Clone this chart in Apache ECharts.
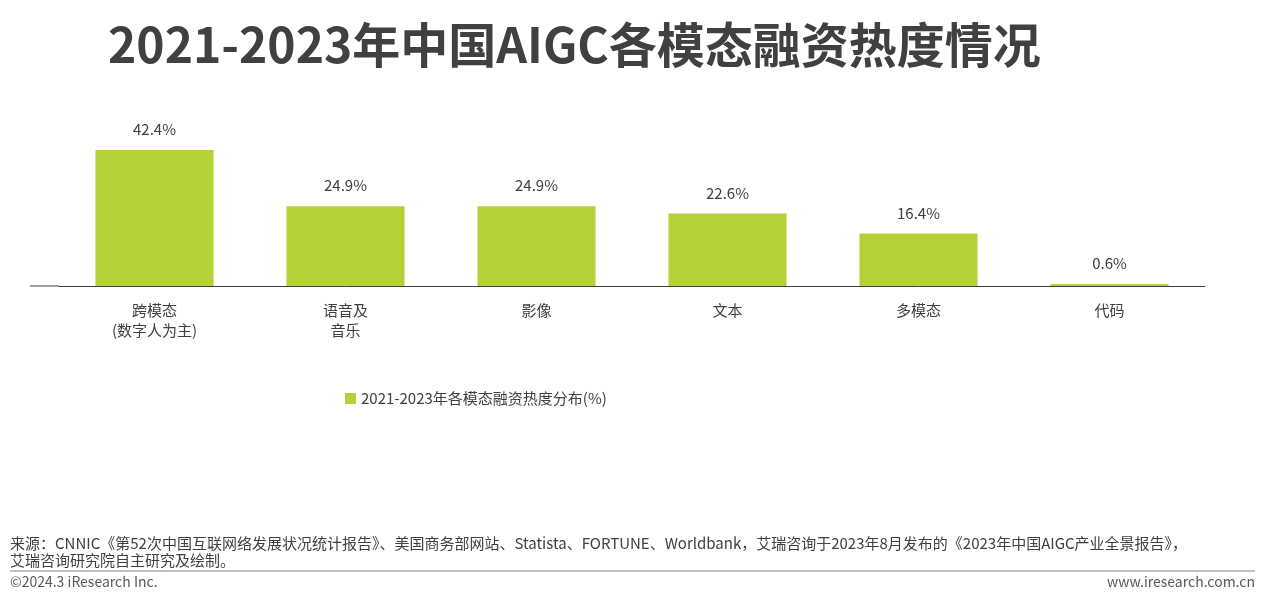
<!DOCTYPE html>
<html lang="zh">
<head>
<meta charset="UTF-8">
<title>AIGC</title>
<script src="https://cdn.jsdelivr.net/npm/echarts@6/dist/echarts.min.js"></script>
<style>body{margin:0}#main{width:1280px;height:602px}</style>
</head>
<body>
<div id="main"></div>
<script>
var categories = ['跨模态\n(数字人为主)', '语音及\n音乐', '影像', '文本', '多模态', '代码'];
var values = [42.4, 24.9, 24.9, 22.6, 16.4, 0.6];
var seriesName = '2021-2023年各模态融资热度分布(%)';

var font = '"Microsoft YaHei","Noto Sans CJK SC",sans-serif';
var chart = echarts.init(document.getElementById('main'));
chart.setOption({
    textStyle: {fontFamily: font},
    title: {
        text: '2021-2023年中国AIGC各模态融资热度情况',
        left: 103, top: 16,
        textStyle: {fontSize: 48, fontWeight: 'bold', color: '#404040', fontFamily: font}
    },
    legend: {
        data: [seriesName], left: 340, top: 386,
        itemWidth: 11, itemHeight: 11, icon: 'rect',
        textStyle: {fontSize: 15, color: '#404040'}
    },
    grid: {left: 59, right: 75, top: 150, height: 136},
    xAxis: {
        type: 'category', data: categories,
        axisLine: {lineStyle: {color: '#404040'}},
        axisTick: {show: false},
        axisLabel: {fontSize: 15, color: '#404040', margin: 14, lineHeight: 20}
    },
    yAxis: {type: 'value', min: 0, max: 42.4, show: false},
    series: [{
        name: seriesName, type: 'bar', data: values, barWidth: 118,
        itemStyle: {color: '#b2d235'},
        label: {show: true, position: 'top', distance: 13, formatter: '{c}%', fontSize: 15, color: '#404040'}
    }],
    graphic: [
        {type: 'line', shape: {x1: 30, y1: 286, x2: 59, y2: 286}, style: {stroke: '#404040', lineWidth: 1}},
        {type: 'text', left: 10, top: 535, style: {text: '来源：CNNIC《第52次中国互联网络发展状况统计报告》、美国商务部网站、Statista、FORTUNE、Worldbank，艾瑞咨询于2023年8月发布的《2023年中国AIGC产业全景报告》，\n艾瑞咨询研究院自主研究及绘制。', font: '15px ' + font, fill: '#404040', lineHeight: 17}},
        {type: 'line', shape: {x1: 10, y1: 571, x2: 1255, y2: 571}, style: {stroke: '#808080', lineWidth: 1}},
        {type: 'text', left: 10, top: 575, style: {text: '©2024.3 iResearch Inc.', font: '14px ' + font, fill: '#595959'}},
        {type: 'text', right: 25, top: 575, style: {text: 'www.iresearch.com.cn', font: '14px ' + font, fill: '#595959'}}
    ]
});
</script>
</body>
</html>
